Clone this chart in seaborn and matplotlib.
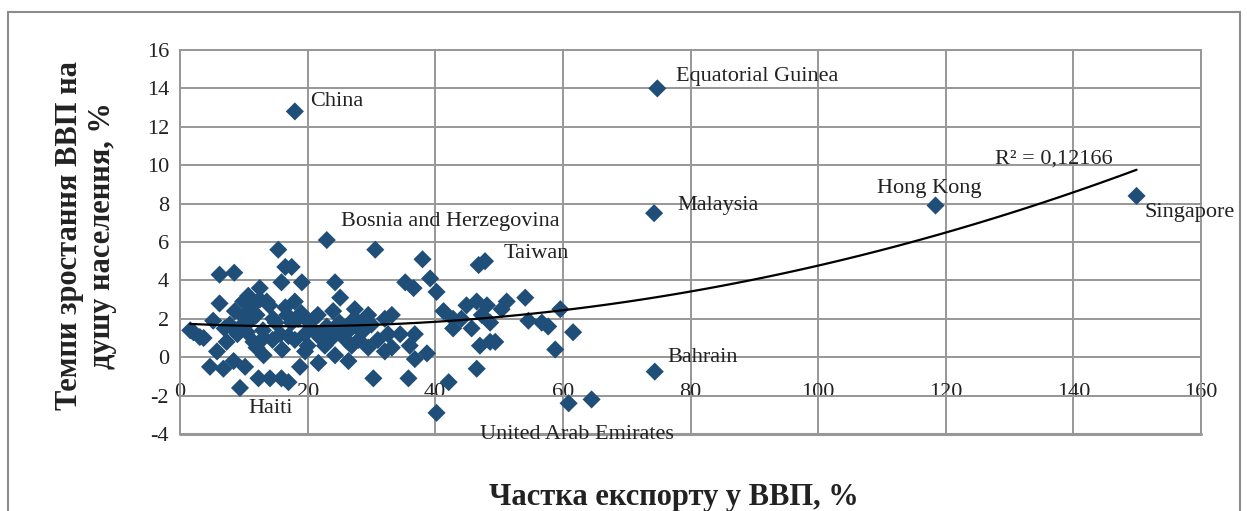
import numpy as np
import pandas as pd
import seaborn as sns
import matplotlib.pyplot as plt
from matplotlib.patches import Rectangle

# export share of GDP (%) and GDP per capita growth (%)
export_share = [
    15.4, 6.2, 8.5, 12.5, 10.7, 6.2, 8.6, 5.2, 2.1, 3.7, 7.3, 5.8, 4.7, 6.8, 8.4,
    10.2, 9.4, 12.3, 14.1, 15.9, 13.1, 10.5, 13.1, 14.6, 11.0, 15.9, 16.5, 9.9,
    13.6, 7.8, 15.7, 12.0, 1.6, 3.1,
    23.0, 30.6, 17.5, 19.1, 24.3, 25.1, 27.4, 29.5, 32.1, 18.0, 21.6, 19.6, 23.8,
    26.9, 29.5, 26.4, 21.7, 18.8, 17.0, 30.3, 32.1, 17.5, 20.6, 24.8, 28.5, 32.6,
    22.7, 24.3, 19.6, 30.0,
    21.0, 22.0, 25.0, 27.0, 26.0, 23.0, 28.0, 20.0, 19.0, 16.5, 14.0, 12.0, 10.0,
    9.0, 11.5, 16.0, 18.0, 20.0,
    13.0, 15.0, 17.0, 11.0, 9.5, 14.5, 18.5, 21.5, 24.0, 26.5, 28.0, 31.0,
    7.0, 12.5, 16.8, 22.5,
    38.0, 39.2, 35.3, 36.6, 40.2, 46.8, 47.8, 33.2, 34.5, 36.8, 36.0, 38.7, 36.8,
    35.8, 42.1, 40.2, 46.5, 41.3, 42.8, 44.9, 46.5, 48.1, 44.1, 45.7, 47.3, 48.6,
    42.8, 47.0, 48.6, 33.2,
    54.1, 51.2, 50.4, 54.6, 56.7, 57.7, 59.6, 61.6, 58.8, 60.9, 64.5, 49.4,
    18.0, 74.8, 74.3, 118.4, 149.9, 74.4,
]
gdp_growth = [
    5.6, 4.3, 4.4, 3.6, 3.2, 2.8, 2.4, 1.9, 1.3, 1.0, 0.8, 0.3, -0.5, -0.6, -0.2,
    -0.5, -1.6, -1.1, -1.1, -1.1, 0.1, 1.3, 1.0, 2.0, 1.9, 3.9, 4.7, 2.9,
    2.9, 1.7, 1.2, 0.5, 1.4, 1.05,
    6.1, 5.6, 4.7, 3.9, 3.9, 3.1, 2.5, 2.2, 2.0, 2.9, 2.2, 1.2, 1.0,
    0.6, 0.5, -0.2, -0.3, -0.5, -1.3, -1.1, 0.3, 1.8, 1.5, 1.3, 1.3, 1.2,
    0.6, 0.1, 0.3, 1.7,
    2.0, 1.0, 1.8, 1.9, 0.9, 1.6, 0.9, 0.6, 2.3, 2.6, 2.7, 2.2, 2.1,
    1.2, 0.8, 0.4, 0.9, 1.9,
    1.4, 1.8, 1.1, 2.6, 1.6, 0.9, 2.0, 1.2, 2.4, 1.4, 1.8, 0.9,
    1.5, 3.0, 2.2, 1.4,
    5.1, 4.1, 3.9, 3.6, 3.4, 4.8, 5.0, 2.2, 1.2, 1.2, 0.6, 0.2, -0.1,
    -1.1, -1.3, -2.9, -0.6, 2.4, 2.0, 2.7, 2.9, 2.7, 2.0, 1.5, 2.2, 1.8,
    1.5, 0.6, 0.8, 0.5,
    3.1, 2.9, 2.5, 1.9, 1.8, 1.6, 2.5, 1.3, 0.4, -2.4, -2.2, 0.8,
    12.8, 14.0, 7.5, 7.9, 8.4, -0.75,
]

# labelled countries and where their labels sit
label_names = ["China", "Equatorial Guinea", "Bosnia and Herzegovina", "Taiwan",
               "Malaysia", "Hong Kong", "Singapore", "Bahrain", "Haiti",
               "United Arab Emirates"]
label_x = [20.4, 77.7, 25.2, 50.7, 78.0, 109.2, 151.2, 76.3, 10.7, 47.0]
label_y = [13.3, 14.6, 7.05, 5.4, 7.9, 8.8, 7.55, 0.0, -2.65, -4.05]
r2_text = "R² = 0,12166"

df = pd.DataFrame({"export": export_share, "growth": gdp_growth})

sns.set_style("white")
plt.rcParams["font.family"] = ["Liberation Serif", "DejaVu Serif"]
plt.rcParams["axes.unicode_minus"] = False

fig = plt.figure(figsize=(12.47, 5.11), dpi=100)
ax = fig.add_axes([180 / 1247, 1 - 434 / 511, 1021 / 1247, 384 / 511])

grid_c = "#979797"
sns.scatterplot(data=df, x="export", y="growth", marker="D", s=85,
                color="#1F4E79", edgecolor="none", linewidth=0, ax=ax, zorder=3)
sns.regplot(data=df, x="export", y="growth", order=2, ci=None, scatter=False,
            line_kws={"color": "black", "lw": 1.6, "zorder": 4}, ax=ax)

ax.set_xlim(0, 160)
ax.set_ylim(-4, 16)
ax.set_xticks(np.arange(0, 161, 20))
ax.set_yticks(np.arange(-4, 17, 2))
ax.grid(True, color=grid_c, lw=1.4)
ax.set_axisbelow(True)
for s in ax.spines.values():
    s.set_color(grid_c)
    s.set_linewidth(1.4)
ax.spines["bottom"].set_position(("data", -2))
ax.axhline(-4, color=grid_c, lw=2.2, clip_on=False, zorder=1)

ax.tick_params(axis="both", length=0, labelsize=16, colors="#222222")
ax.tick_params(axis="x", pad=-9)
ax.tick_params(axis="y", pad=8)
ax.set_xlabel("")
ax.set_ylabel("")

for name, lx, ly in zip(label_names, label_x, label_y):
    ax.text(lx, ly, name, fontsize=16, ha="left", va="center", color="#222222",
            clip_on=False, zorder=5)
ax.text(127.7, 10.3, r2_text, fontsize=16, ha="left", va="center",
        color="#222222", zorder=5)

fig.text(86 / 1247, 1 - 236 / 511, "Темпи зростання ВВП на\nдушу населення, %",
         rotation=90, ha="center", va="center", multialignment="center",
         fontsize=22, fontweight="bold", color="#222222", linespacing=1.15)
fig.text(674 / 1247, 1 - 497 / 511, "Частка експорту у ВВП, %", ha="center",
         va="center", fontsize=22, fontweight="bold", color="#222222")

fig.patches.append(Rectangle((8 / 1247, -0.05), 1232 / 1247, 1.05 - 12 / 511,
                             transform=fig.transFigure, fill=False,
                             edgecolor="#8c8c8c", lw=1.5))

fig.savefig("out.png", dpi=100)
